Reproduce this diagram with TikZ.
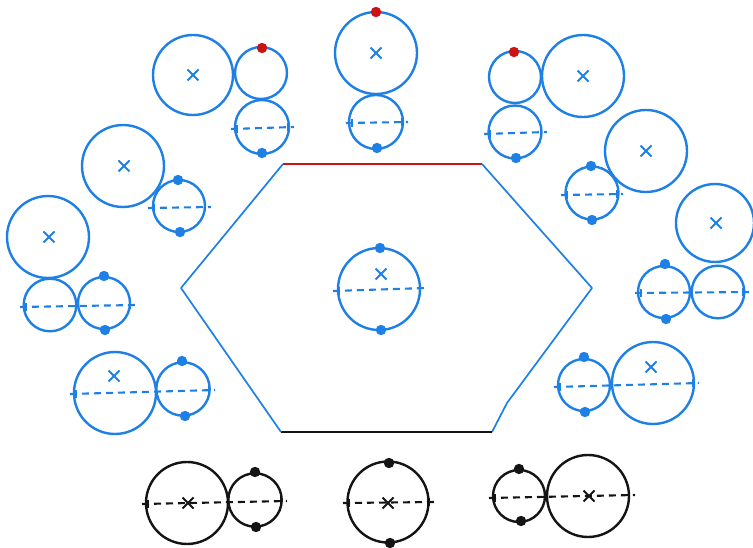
\documentclass[tikz,border=0pt]{standalone}
\definecolor{sk}{RGB}{30,128,229}
\definecolor{skred}{RGB}{205,18,18}
\definecolor{skblk}{RGB}{20,20,20}
\tikzset{
  ring/.style={draw=#1, line width=2.4pt},
  dline/.style={draw=#1, line width=2.1pt, dash pattern=on 7pt off 5pt},
  tickl/.style={draw=#1, line width=1.8pt},
  hexe/.style={draw=#1, line width=1.7pt},
}
\newcommand{\xmk}[3]{\draw[#1, line width=2.1pt] (#2-5.5,#3-5.5)--(#2+5.5,#3+5.5) (#2-5.5,#3+5.5)--(#2+5.5,#3-5.5);}
\newcommand{\pdot}[3]{\fill[#1] (#2,#3) circle (5.2);}
\newcommand{\dsh}[5]{\draw[dline=#1] (#2,#3)--(#4,#5);
  \draw[tickl=#1] (#2+6,#3-4)--(#2+6,#3+4) (#4-6,#5-4)--(#4-6,#5+4);}
\begin{document}
\begin{tikzpicture}[x=1pt,y=-1pt]
\useasboundingbox (0,0) rectangle (753,548);
% ---------- hexagon ----------
\draw[hexe=skred] (283,164) -- (482,164);
\draw[hexe=sk, line join=round] (482,164) -- (592,288) -- (507,403) -- (492,432);
\draw[hexe=skblk] (492,432) -- (281,432);
\draw[hexe=sk, line join=round] (281,432) -- (181,288) -- (283,164);
% center
\draw[ring=sk] (379,289) circle (41);
\dsh{sk}{333}{291}{426}{288}
\xmk{sk}{381}{274}
\pdot{sk}{380}{248} \pdot{sk}{381}{330}
% ---------- top-left group ----------
\draw[ring=sk] (193,75) circle (40);
\xmk{sk}{193}{75}
\draw[ring=sk] (261,73) circle (26);
\pdot{skred}{262}{48}
\draw[ring=sk] (262,127) circle (27);
\dsh{sk}{231}{129}{294}{127}
\pdot{sk}{262}{153}
% ---------- top center ----------
\draw[ring=sk] (376,53) circle (41);
\xmk{sk}{376}{53}
\pdot{skred}{376}{12}
\draw[ring=sk] (376,122) circle (27);
\dsh{sk}{346}{123}{408}{122}
\pdot{sk}{377}{148}
% ---------- top-right group ----------
\draw[ring=sk] (515,77) circle (26);
\pdot{skred}{514}{52}
\draw[ring=sk] (583,76) circle (41);
\xmk{sk}{583}{76}
\draw[ring=sk] (515,132) circle (26.5);
\dsh{sk}{484}{134}{547}{132}
\pdot{sk}{516}{158}
% ---------- right side ----------
\draw[ring=sk] (646,151) circle (41);
\xmk{sk}{646}{151}
\draw[ring=sk] (592,193) circle (26.5);
\dsh{sk}{561}{195}{623}{194}
\pdot{sk}{591}{166} \pdot{sk}{592}{220}
\draw[ring=sk] (715,223) circle (39);
\xmk{sk}{716}{223}
\draw[ring=sk] (664,292) circle (26);
\draw[ring=sk] (718,292) circle (26.3);
\dsh{sk}{635}{293}{749}{292}
\pdot{sk}{665}{264} \pdot{sk}{666}{319}
\draw[ring=sk] (584,385) circle (26);
\draw[ring=sk] (653,383) circle (41);
\xmk{sk}{651}{367}
\dsh{sk}{554}{387}{699}{383}
\pdot{sk}{584}{357} \pdot{sk}{585}{412}
% ---------- left side ----------
\draw[ring=sk] (123,166) circle (41);
\xmk{sk}{124}{166}
\draw[ring=sk] (179,206) circle (26);
\dsh{sk}{148}{208}{211}{207}
\pdot{sk}{178}{180} \pdot{sk}{180}{232}
\draw[ring=sk] (48,237) circle (41);
\xmk{sk}{49}{237}
\draw[ring=sk] (50,305) circle (26.3);
\draw[ring=sk] (104,303) circle (26);
\dsh{sk}{20}{307}{136}{305}
\pdot{sk}{104}{276} \pdot{sk}{105}{330}
\draw[ring=sk] (115,393) circle (41);
\xmk{sk}{114}{376}
\draw[ring=sk] (183,389) circle (26.7);
\dsh{sk}{70}{394}{215}{390}
\pdot{sk}{182}{361} \pdot{sk}{185}{416}
% ---------- bottom black ----------
\draw[ring=skblk] (187,503) circle (41);
\xmk{skblk}{188}{503}
\draw[ring=skblk] (255,500) circle (26.7);
\dsh{skblk}{142}{504}{287}{501}
\pdot{skblk}{255}{472} \pdot{skblk}{256}{527}
\draw[ring=skblk] (388,502) circle (40.5);
\xmk{skblk}{388}{503}
\dsh{skblk}{343}{503}{435}{502}
\pdot{skblk}{389}{463} \pdot{skblk}{390}{543}
\draw[ring=skblk] (519,496) circle (26);
\draw[ring=skblk] (588,496) circle (41);
\xmk{skblk}{589}{496}
\dsh{skblk}{489}{498}{635}{495}
\pdot{skblk}{519}{469} \pdot{skblk}{521}{521}
\end{tikzpicture}
\end{document}
